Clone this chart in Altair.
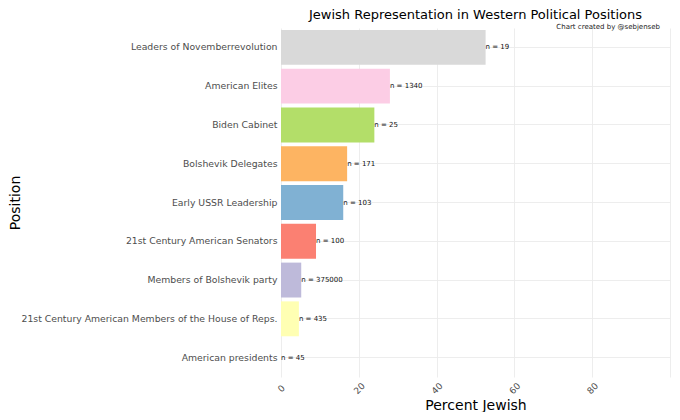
import altair as alt
import pandas as pd

positions = [
    "Leaders of Novemberrevolution",
    "American Elites",
    "Biden Cabinet",
    "Bolshevik Delegates",
    "Early USSR Leadership",
    "21st Century American Senators",
    "Members of Bolshevik party",
    "21st Century American Members of the House of Reps.",
    "American presidents",
]
percent = [52.6, 28.0, 24.0, 17.0, 16.0, 9.0, 5.2, 4.6, 0.0]
n_values = [19, 1340, 25, 171, 103, 100, 375000, 435, 45]
colors = ["#D9D9D9", "#FCCDE5", "#B3DE69", "#FDB462", "#80B1D3",
          "#FB8072", "#BEBADA", "#FFFFB3", "#8DD3C7"]
title_text = "Jewish Representation in Western Political Positions"
credit_text = ["Chart created by @sebjenseb"]

df = pd.DataFrame({
    "Position": positions,
    "Percent": percent,
    "label": [f"n = {v}" for v in n_values],
})

FONT = "DejaVu Sans"
W, H = 389, 349

y_enc = alt.Y("Position:N", sort=positions,
              scale=alt.Scale(paddingInner=0.1, paddingOuter=0.05),
              axis=alt.Axis(title="Position", titleFontSize=14, titleFontWeight="normal",
                            titleColor="#000000", titleX=-266, titleY=H / 2,
                            titleBaseline="middle", titleAlign="center",
                            labelFontSize=9.3, labelColor="#4d4d4d", labelPadding=4,
                            ticks=False, domain=False, grid=True, bandPosition=0.5,
                            gridColor="#ebebeb", gridWidth=0.9, labelLimit=400))
x_enc = alt.X("Percent:Q", scale=alt.Scale(domain=[0, 100], nice=False),
              axis=alt.Axis(title="Percent Jewish", titleFontSize=14, titleFontWeight="normal",
                            titleColor="#000000", titleY=28, titleBaseline="middle",
                            values=list(range(0, 101, 10)),
                            labelExpr="(datum.value % 20 == 0 && datum.value < 100) ? datum.label : ''",
                            labelAngle=-45, labelAlign="center", labelBaseline="middle",
                            labelPadding=11, labelFontSize=9, labelColor="#4d4d4d",
                            ticks=False, domain=False, gridColor="#ebebeb",
                            gridWidth={"condition": {"test": "datum.value % 20 == 0", "value": 0.9},
                                       "value": 0.5}))

bars = alt.Chart(df).mark_bar().encode(
    y=y_enc,
    x=x_enc,
    color=alt.Color("Position:N", sort=positions,
                    scale=alt.Scale(domain=positions, range=colors), legend=None),
)

text = alt.Chart(df).mark_text(align="left", baseline="middle", fontSize=7,
                               font=FONT, color="#111111").encode(
    y=alt.Y("Position:N", sort=positions),
    x=alt.X("Percent:Q"),
    text="label:N",
)

credit = alt.Chart(pd.DataFrame({"t": credit_text})).mark_text(
    align="right", baseline="middle", fontSize=7, font=FONT, color="#222222"
).encode(text="t:N", x=alt.value(W - 10), y=alt.value(-1))

chart = alt.layer(bars, text, credit).properties(
    width=W, height=H,
    title=alt.TitleParams(
        title_text, anchor="middle", fontSize=13, fontWeight="normal", color="#000000",
        font=FONT, offset=1,
    ),
    autosize=alt.AutoSizeParams(type="none"),
    padding={"left": 273, "top": 20, "right": 2, "bottom": 35},
).configure(font=FONT).configure_view(stroke=None).configure_title(
    frame="group"
)

chart.save("out.html", embed_options={"renderer": "svg", "actions": False})
